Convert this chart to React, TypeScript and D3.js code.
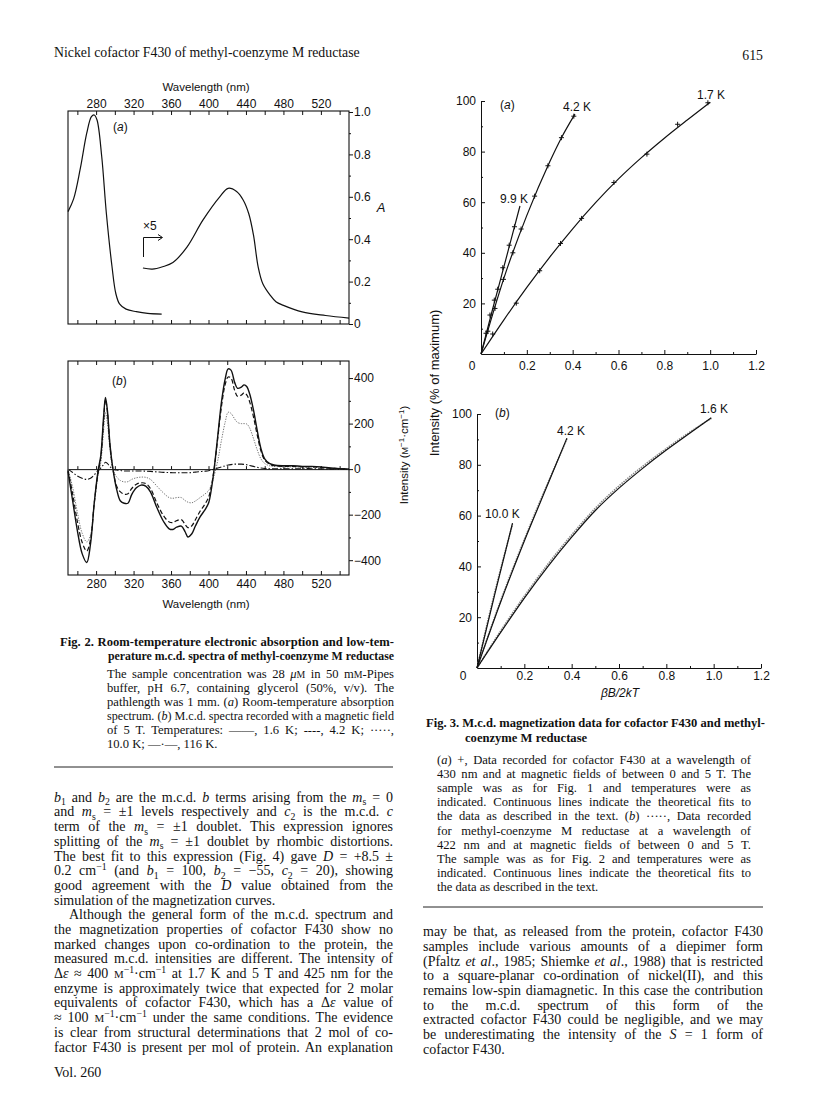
import React, { useEffect, useRef } from 'react';
import * as d3 from 'd3';

const SANS = '"Liberation Sans", Arial, Helvetica, sans-serif';
const SERIF = '"Liberation Serif", "Times New Roman", Times, serif';

// Fig. 2(a) room-temperature absorption
const absWl = [250, 256, 263, 270, 275, 278, 281, 286, 291, 297, 301, 305, 312, 323, 335, 350];
const absA = [0.53, 0.59, 0.73, 0.9, 0.978, 0.986, 0.962, 0.79, 0.52, 0.27, 0.145, 0.095, 0.07, 0.058, 0.05, 0.047];
// x5 expanded trace
const x5Wl = [330, 340, 351, 362, 377, 394, 412, 421, 430, 437, 443, 448, 453, 458, 466, 472, 480, 500, 525, 550];
const x5A = [0.264, 0.259, 0.27, 0.29, 0.363, 0.49, 0.6, 0.64, 0.625, 0.585, 0.52, 0.42, 0.27, 0.19, 0.135, 0.105, 0.088, 0.057, 0.04, 0.028];
const wlTicks = [260, 280, 300, 320, 340, 360, 380, 400, 420, 440, 460, 480, 500, 520, 540];
const wlLabels = [280, 320, 360, 400, 440, 480, 520];
const aTicks = [0, 0.2, 0.4, 0.6, 0.8, 1.0];
const aMinor = [0.1, 0.3, 0.5, 0.7, 0.9];

// Fig. 2(b) m.c.d. spectra
const mcdWl = [250, 255, 260, 265, 270, 274, 278, 282, 285, 288, 290, 292, 295, 298, 302, 306, 310, 314, 318, 323, 328, 333, 338, 345, 352, 358, 362, 366, 371, 375, 378, 382, 386, 391, 396, 400, 403, 406, 410, 414, 418, 421, 424, 428, 431, 435, 438, 441, 444, 448, 452, 456, 460, 465, 470, 480, 490, 500, 510, 520, 530, 540, 550];
const mcd16K = [-10, -140, -270, -370, -410, -330, -150, -10, 60, 230, 315, 260, 100, 0, -90, -140, -150, -150, -112, -82, -70, -75, -100, -170, -230, -262, -265, -255, -250, -275, -298, -285, -250, -210, -180, -150, -90, 0, 150, 300, 400, 440, 435, 380, 355, 360, 370, 362, 330, 260, 170, 90, 45, 25, 18, 15, 15, 12, 12, 10, 5, 2, 0];
const mcd42K = [-5, -110, -230, -320, -360, -310, -150, -20, 50, 210, 305, 255, 95, 0, -75, -100, -110, -108, -85, -66, -60, -63, -85, -150, -205, -232, -235, -226, -222, -243, -257, -250, -222, -185, -155, -125, -75, 0, 140, 280, 375, 405, 400, 345, 320, 325, 335, 325, 295, 230, 150, 80, 40, 22, 15, 12, 12, 10, 10, 8, 4, 2, 0];
const mcd10K = [0, -80, -190, -280, -320, -290, -150, -30, 30, 170, 250, 205, 80, 0, -35, -50, -56, -55, -45, -38, -35, -36, -45, -75, -105, -125, -128, -125, -125, -138, -145, -148, -140, -125, -110, -95, -70, -30, 40, 130, 210, 250, 245, 220, 205, 200, 200, 198, 180, 135, 85, 45, 25, 15, 12, 10, 10, 8, 8, 6, 3, 1, 0];
const mcd116K = [0, -15, -30, -40, -45, -40, -25, -5, 5, 20, 30, 25, 10, 0, -4, -6, -8, -8, -8, -8, -8, -9, -10, -12, -14, -15, -16, -16, -16, -16, -16, -15, -13, -11, -9, -7, -4, 0, 5, 10, 15, 18, 20, 22, 22, 22, 21, 19, 16, 12, 8, 5, 3, 2, 2, 2, 2, 2, 2, 1, 0, 0, 0];
const mcdTicks = [-400, -200, 0, 200, 400];
const mcdMinor = [-300, -100, 100, 300];

// Fig. 3(a) cofactor F430 magnetization (+ data, fitted lines)
const pts17x = [0.051, 0.154, 0.256, 0.347, 0.439, 0.58, 0.724, 0.858, 0.99];
const pts17y = [7.9, 20.1, 32.9, 43.7, 53.6, 67.8, 79, 90.8, 99.3];
const pts42x = [0.03, 0.061, 0.098, 0.139, 0.175, 0.234, 0.292, 0.351, 0.405];
const pts42y = [9, 18, 29.5, 40, 49.4, 62.4, 74.4, 85.5, 94];
const pts99x = [0.022, 0.039, 0.058, 0.073, 0.095, 0.123, 0.146];
const pts99y = [8.2, 15.4, 21.3, 25.6, 34.1, 43, 50.3];
const fit17x = [0, 0.1, 0.2, 0.3, 0.4, 0.5, 0.6, 0.7, 0.8, 0.9, 1.0];
const fit17y = [0, 13.5, 26.3, 38.3, 49.5, 59.8, 69.2, 77.6, 85.3, 92.5, 99.5];
const fit42x = [0, 0.1, 0.2, 0.3, 0.35, 0.41];
const fit42y = [0, 30, 54.8, 76, 85.3, 94.8];
const fit99x = [0, 0.05, 0.1, 0.17];
const fit99y = [0, 17.5, 34.5, 58.5];

// Fig. 3(b) methyl-coenzyme M reductase (dotted data, fitted lines)
const fitB16x = [0, 0.1, 0.2, 0.3, 0.4, 0.5, 0.6, 0.7, 0.8, 0.9, 0.99];
const fitB16y = [0, 14, 27.5, 40, 51.5, 62, 70.8, 78.6, 85.8, 92.5, 98.5];
const datB16y = [0, 14.6, 28.3, 40.9, 52.4, 62.9, 71.7, 79.4, 86.4, 92.9, 98.3];
const fitB42x = [0, 0.1, 0.2, 0.3, 0.38];
const fitB42y = [0, 26, 50, 72.5, 90.5];
const datB42y = [0, 26.5, 50.6, 73, 90.2];
const fitB10x = [0, 0.075, 0.15];
const fitB10y = [0, 29, 57];
const datB10y = [0, 29.8, 56.5];
const betaLabels = [0.2, 0.4, 0.6, 0.8, 1.0, 1.2];
const betaMinor = [0.1, 0.3, 0.5, 0.7, 0.9, 1.1];
const pctLabels = [20, 40, 60, 80, 100];
const pctMinor = [10, 30, 50, 70, 90];

// page text
const header = 'Nickel cofactor F430 of methyl-coenzyme M reductase';
const fig2Bold = [
  'Fig. 2. Room-temperature electronic absorption and low-tem-',
  'perature m.c.d. spectra of methyl-coenzyme M reductase',
];
const fig2Text = [
  'The sample concentration was 28 *μ*#M# in 50 m#M#-Pipes',
  'buffer, pH 6.7, containing glycerol (50%, v/v). The',
  'pathlength was 1 mm. (*a*) Room-temperature absorption',
  'spectrum. (*b*) M.c.d. spectra recorded with a magnetic field',
  'of 5 T. Temperatures: ——, 1.6 K; ----, 4.2 K; ·····,',
  '10.0 K; —·—, 116 K.',
];
const fig3Bold = [
  'Fig. 3. M.c.d. magnetization data for cofactor F430 and methyl-',
  'coenzyme M reductase',
];
const fig3Text = [
  '(*a*) +, Data recorded for cofactor F430 at a wavelength of',
  '430 nm and at magnetic fields of between 0 and 5 T. The',
  'sample was as for Fig. 1 and temperatures were as',
  'indicated. Continuous lines indicate the theoretical fits to',
  'the data as described in the text. (*b*) ·····, Data recorded',
  'for methyl-coenzyme M reductase at a wavelength of',
  '422 nm and at magnetic fields of between 0 and 5 T.',
  'The sample was as for Fig. 2 and temperatures were as',
  'indicated. Continuous lines indicate the theoretical fits to',
  'the data as described in the text.',
];
const leftBody = [
  '*b*_{1} and *b*_{2} are the m.c.d. *b* terms arising from the *m*_{s} = 0',
  'and *m*_{s} = ±1 levels respectively and *c*_{2} is the m.c.d. *c*',
  'term of the *m*_{s} = ±1 doublet. This expression ignores',
  'splitting of the *m*_{s} = ±1 doublet by rhombic distortions.',
  'The best fit to this expression (Fig. 4) gave *D* = +8.5 ±',
  '0.2 cm^{−1} (and *b*_{1} = 100, *b*_{2} = −55, *c*_{2} = 20), showing',
  'good agreement with the *D* value obtained from the',
  'simulation of the magnetization curves.',
  'Although the general form of the m.c.d. spectrum and',
  'the magnetization properties of cofactor F430 show no',
  'marked changes upon co-ordination to the protein, the',
  'measured m.c.d. intensities are different. The intensity of',
  'Δ*ε* ≈ 400 #M#^{−1}·cm^{−1} at 1.7 K and 5 T and 425 nm for the',
  'enzyme is approximately twice that expected for 2 molar',
  'equivalents of cofactor F430, which has a Δ*ε* value of',
  '≈ 100 #M#^{−1}·cm^{−1} under the same conditions. The evidence',
  'is clear from structural determinations that 2 mol of co-',
  'factor F430 is present per mol of protein. An explanation',
];
const rightBody = [
  'may be that, as released from the protein, cofactor F430',
  'samples include various amounts of a diepimer form',
  '(Pfaltz *et al*., 1985; Shiemke *et al*., 1988) that is restricted',
  'to a square-planar co-ordination of nickel(II), and this',
  'remains low-spin diamagnetic. In this case the contribution',
  'to the m.c.d. spectrum of this form of the',
  'extracted cofactor F430 could be negligible, and we may',
  'be underestimating the intensity of the *S* = 1 form of',
  'cofactor F430.',
];

// scales
const xW = d3.scaleLinear().domain([250, 550]).range([68, 349]);
const yA = d3.scaleLinear().domain([0, 1]).range([324, 112]);
const yM = d3.scaleLinear().domain([-465, 475]).range([575, 361]);
const x3a = d3.scaleLinear().domain([0, 1.2]).range([481, 756]);
const y3a = d3.scaleLinear().domain([0, 100]).range([354, 101]);
const x3b = d3.scaleLinear().domain([0, 1.2]).range([477, 761]);
const y3b = d3.scaleLinear().domain([0, 100]).range([668, 414]);

const path = (xs: number[], ys: number[], sx: any, sy: any, curve: any = d3.curveCatmullRom) =>
  d3.line<number>()
    .x((_, i) => sx(xs[i]))
    .y((_, i) => sy(ys[i]))
    .curve(curve)(xs.map((_, i) => i)) || '';

// tiny markup: *italic*, #smallcaps#, _{sub}, ^{sup}
const rich = (s: string, size: number) => {
  const parts = s.split(/(\*|#|_\{[^}]*\}|\^\{[^}]*\})/).filter(p => p !== '');
  let it = false, sm = false, back = 0;
  const out: any[] = [];
  parts.forEach((p, k) => {
    if (p === '*') { it = !it; return; }
    if (p === '#') { sm = !sm; return; }
    const st = it ? 'italic' : 'normal';
    if (p.startsWith('_{')) {
      out.push(<tspan key={k} dy={back + size * 0.25} fontSize={size * 0.7} fontStyle={st}>{p.slice(2, -1)}</tspan>);
      back = -size * 0.25;
      return;
    }
    if (p.startsWith('^{')) {
      out.push(<tspan key={k} dy={back - size * 0.35} fontSize={size * 0.7} fontStyle={st}>{p.slice(2, -1)}</tspan>);
      back = size * 0.35;
      return;
    }
    out.push(<tspan key={k} dy={back || undefined} fontSize={sm ? size * 0.78 : undefined} fontStyle={st}>{p}</tspan>);
    back = 0;
  });
  return out;
};

// justified lines: stretch word gaps to fill the column
function Lines({ lines, x, y0, dy, width, size, noJust = [], indent = {}, weight = 'normal' }: any) {
  const ref = useRef<SVGGElement>(null);
  useEffect(() => {
    ref.current!.querySelectorAll('text[data-w]').forEach((t: any) => {
      const w = +t.getAttribute('data-w');
      t.removeAttribute('word-spacing');
      t.removeAttribute('textLength');
      const nat = t.getComputedTextLength();
      const spaces = (t.textContent.match(/ /g) || []).length;
      if (nat < w && spaces) t.setAttribute('word-spacing', String((w - nat) / spaces));
      else if (nat > w) {
        t.setAttribute('textLength', String(w));
        t.setAttribute('lengthAdjust', 'spacingAndGlyphs');
      }
    });
  });
  return (
    <g ref={ref} fontFamily={SERIF} fontSize={size} fontWeight={weight} fill="#111">
      {lines.map((s: string, i: number) => {
        const ind = indent[i] || 0;
        const just = !noJust.includes(i);
        return (
          <text key={i} x={x + ind} y={y0 + i * dy} data-w={just ? width - ind : undefined}>
            {rich(s, size)}
          </text>
        );
      })}
    </g>
  );
}

function Axis({ axis, x = 0, y = 0, domain = true, size = 12 }: any) {
  const ref = useRef<SVGGElement>(null);
  useEffect(() => {
    const g = d3.select(ref.current!);
    g.selectAll('*').remove();
    g.call(axis);
    g.attr('font-family', SANS).attr('font-size', size);
    if (!domain) g.select('.domain').remove();
    g.selectAll('line, path').attr('stroke', '#111').attr('stroke-width', 1);
    g.selectAll('text').attr('fill', '#111');
  });
  return <g ref={ref} transform={`translate(${x},${y})`} />;
}

const plus = (px: number, py: number) => `M${px - 2.5},${py}H${px + 2.5}M${px},${py - 2.5}V${py + 2.5}`;

export default function App() {
  const fmtA = (d: any) => (d === 0 ? '0' : d3.format('.1f')(d));
  const none = () => '';
  return (
    <div style={{ position: 'absolute', left: 0, top: 0 }}>
      <svg width={816} height={1103} style={{ display: 'block', background: '#fff' }}>
        {/* page header */}
        <text x={54} y={57} fontFamily={SERIF} fontSize={13.8} fill="#111">{header}</text>
        <text x={763} y={60} fontFamily={SERIF} fontSize={13.8} textAnchor="end" fill="#111">615</text>

        {/* ---------- Fig. 2(a) ---------- */}
        <rect x={xW(250)} y={111} width={xW(550) - xW(250)} height={324 - 111} fill="none" stroke="#111" strokeWidth={1.1} />
        <Axis axis={d3.axisTop(xW).tickValues(wlTicks).tickSize(-4).tickSizeOuter(0).tickPadding(3)
          .tickFormat((d: any) => (wlLabels.includes(d) ? String(d) : ''))} y={111} domain={false} />
        <Axis axis={d3.axisBottom(xW).tickValues(wlTicks).tickSize(-4).tickSizeOuter(0).tickFormat(none)} y={324} domain={false} />
        <Axis axis={d3.axisRight(yA).tickValues(aTicks).tickSize(4).tickSizeOuter(0).tickPadding(1).tickFormat(fmtA)} x={349} domain={false} />
        <Axis axis={d3.axisRight(yA).tickValues(aMinor).tickSize(2).tickSizeOuter(0).tickFormat(none)} x={349} domain={false} />
        <text x={206} y={91} fontFamily={SANS} fontSize={11.5} textAnchor="middle" fill="#111">Wavelength (nm)</text>
        <text x={381} y={212} fontFamily={SANS} fontSize={13} fontStyle="italic" textAnchor="middle" fill="#111">A</text>
        <text x={113} y={131} fontFamily={SANS} fontSize={12} fill="#111">(<tspan fontStyle="italic">a</tspan>)</text>
        <path d={path(absWl, absA, xW, yA)} fill="none" stroke="#111" strokeWidth={1.2} />
        <path d={path(x5Wl, x5A, xW, yA)} fill="none" stroke="#111" strokeWidth={1.2} />
        <text x={143} y={230} fontFamily={SANS} fontSize={12} fill="#111">×5</text>
        <path d="M143.5,257V237.5H162M158,234.5L162.5,237.5L158,240.5" fill="none" stroke="#111" strokeWidth={1} />

        {/* ---------- Fig. 2(b) ---------- */}
        <rect x={xW(250)} y={361} width={xW(550) - xW(250)} height={575 - 361} fill="none" stroke="#111" strokeWidth={1.1} />
        <Axis axis={d3.axisTop(xW).tickValues(wlTicks).tickSize(-4).tickSizeOuter(0).tickFormat(none)} y={361} domain={false} />
        <Axis axis={d3.axisBottom(xW).tickValues(wlTicks).tickSize(-4).tickSizeOuter(0).tickPadding(4.5)
          .tickFormat((d: any) => (wlLabels.includes(d) ? String(d) : ''))} y={575} domain={false} />
        <Axis axis={d3.axisBottom(xW).tickValues(wlTicks).tickSize(-3).tickSizeOuter(0).tickFormat(none)} y={yM(0)} />
        <Axis axis={d3.axisRight(yM).tickValues(mcdTicks).tickSize(4).tickSizeOuter(0).tickPadding(1).tickFormat(d3.format('d') as any)} x={349} domain={false} />
        <Axis axis={d3.axisRight(yM).tickValues(mcdMinor).tickSize(2).tickSizeOuter(0).tickFormat(none)} x={349} domain={false} />
        <text x={206} y={608} fontFamily={SANS} fontSize={11.5} textAnchor="middle" fill="#111">Wavelength (nm)</text>
        <text transform="translate(408,455) rotate(-90)" fontFamily={SANS} fontSize={11.5} textAnchor="middle" fill="#111">
          Intensity (<tspan fontSize={9}>M</tspan><tspan dy={-4} fontSize={8}>−1</tspan><tspan dy={4}>·cm</tspan><tspan dy={-4} fontSize={8}>−1</tspan><tspan dy={4}>)</tspan>
        </text>
        <text x={112} y={385} fontFamily={SANS} fontSize={12} fill="#111">(<tspan fontStyle="italic">b</tspan>)</text>
        <path d={path(mcdWl, mcd116K, xW, yM)} fill="none" stroke="#111" strokeWidth={1.1} strokeDasharray="6,2,1.5,2" />
        <path d={path(mcdWl, mcd10K, xW, yM)} fill="none" stroke="#777" strokeWidth={1} strokeDasharray="1.3,1.3" />
        <path d={path(mcdWl, mcd42K, xW, yM)} fill="none" stroke="#111" strokeWidth={1.2} strokeDasharray="4.5,2.5" />
        <path d={path(mcdWl, mcd16K, xW, yM)} fill="none" stroke="#111" strokeWidth={1.4} />

        {/* Fig. 2 caption */}
        <Lines lines={fig2Bold} x={60} y0={646} dy={14} width={334} size={12.6} weight="bold" indent={{ 1: 48 }} />
        <Lines lines={fig2Text} x={107} y0={678} dy={13.9} width={287} size={12.6} noJust={[5]} />
        <line x1={54} x2={393} y1={767} y2={767} stroke="#222" strokeWidth={1} />

        {/* left column body */}
        <Lines lines={leftBody} x={54} y0={801.8} dy={14.69} width={339} size={14} noJust={[7]} indent={{ 8: 15 }} />
        <text x={54} y={1077} fontFamily={SERIF} fontSize={14} fill="#111">Vol. 260</text>

        {/* ---------- Fig. 3(a) ---------- */}
        <Axis axis={d3.axisBottom(x3a).tickValues(betaLabels).tickSize(-4).tickSizeOuter(0).tickPadding(7).tickFormat(d3.format('.1f') as any)} y={354} />
        <Axis axis={d3.axisBottom(x3a).tickValues(betaMinor).tickSize(-2).tickSizeOuter(0).tickFormat(none)} y={354} domain={false} />
        <Axis axis={d3.axisLeft(y3a).tickValues(pctLabels).tickSize(-4).tickSizeOuter(0).tickPadding(5).tickFormat(d3.format('d') as any)} x={481} />
        <Axis axis={d3.axisLeft(y3a).tickValues(pctMinor).tickSize(-2).tickSizeOuter(0).tickFormat(none)} x={481} domain={false} />
        <text x={x3a(0) - 9} y={370} fontFamily={SANS} fontSize={12} textAnchor="middle" fill="#111">0</text>
        <path d={path(fit17x, fit17y, x3a, y3a, d3.curveMonotoneX)} fill="none" stroke="#111" strokeWidth={1.2} />
        <path d={path(fit42x, fit42y, x3a, y3a, d3.curveMonotoneX)} fill="none" stroke="#111" strokeWidth={1.2} />
        <path d={path(fit99x, fit99y, x3a, y3a, d3.curveMonotoneX)} fill="none" stroke="#111" strokeWidth={1.2} />
        <path d={[
          ...pts17x.map((v, i) => plus(x3a(v), y3a(pts17y[i]))),
          ...pts42x.map((v, i) => plus(x3a(v), y3a(pts42y[i]))),
          ...pts99x.map((v, i) => plus(x3a(v), y3a(pts99y[i]))),
        ].join('')} fill="none" stroke="#111" strokeWidth={1} />
        <text x={500} y={109} fontFamily={SANS} fontSize={12} fill="#111">(<tspan fontStyle="italic">a</tspan>)</text>
        <text x={563} y={111} fontFamily={SANS} fontSize={12} fill="#111">4.2 K</text>
        <text x={697} y={99} fontFamily={SANS} fontSize={12} fill="#111">1.7 K</text>
        <text x={500} y={203} fontFamily={SANS} fontSize={12} fill="#111">9.9 K</text>
        <text transform="translate(439,383) rotate(-90)" fontFamily={SANS} fontSize={13} textAnchor="middle" fill="#111">Intensity (% of maximum)</text>

        {/* ---------- Fig. 3(b) ---------- */}
        <Axis axis={d3.axisBottom(x3b).tickValues(betaLabels).tickSize(-4).tickSizeOuter(0).tickPadding(3.5).tickFormat(d3.format('.1f') as any)} y={668} />
        <Axis axis={d3.axisBottom(x3b).tickValues(betaMinor).tickSize(-2).tickSizeOuter(0).tickFormat(none)} y={668} domain={false} />
        <Axis axis={d3.axisLeft(y3b).tickValues(pctLabels).tickSize(-4).tickSizeOuter(0).tickPadding(5).tickFormat(d3.format('d') as any)} x={477} />
        <Axis axis={d3.axisLeft(y3b).tickValues(pctMinor).tickSize(-2).tickSizeOuter(0).tickFormat(none)} x={477} domain={false} />
        <text x={x3b(0) - 14} y={680} fontFamily={SANS} fontSize={12} textAnchor="middle" fill="#111">0</text>
        <path d={path(fitB16x, datB16y, x3b, y3b, d3.curveMonotoneX)} fill="none" stroke="#888" strokeWidth={1.6} strokeDasharray="1.5,1" />
        <path d={path(fitB42x, datB42y, x3b, y3b, d3.curveMonotoneX)} fill="none" stroke="#888" strokeWidth={1.6} strokeDasharray="1.5,1" />
        <path d={path(fitB10x, datB10y, x3b, y3b, d3.curveMonotoneX)} fill="none" stroke="#888" strokeWidth={1.6} strokeDasharray="1.5,1" />
        <path d={path(fitB16x, fitB16y, x3b, y3b, d3.curveMonotoneX)} fill="none" stroke="#111" strokeWidth={1.2} />
        <path d={path(fitB42x, fitB42y, x3b, y3b, d3.curveMonotoneX)} fill="none" stroke="#111" strokeWidth={1.2} />
        <path d={path(fitB10x, fitB10y, x3b, y3b, d3.curveMonotoneX)} fill="none" stroke="#111" strokeWidth={1.2} />
        <text x={495} y={417} fontFamily={SANS} fontSize={12} fill="#111">(<tspan fontStyle="italic">b</tspan>)</text>
        <text x={557} y={435} fontFamily={SANS} fontSize={12} fill="#111">4.2 K</text>
        <text x={700} y={413} fontFamily={SANS} fontSize={12} fill="#111">1.6 K</text>
        <text x={485} y={518} fontFamily={SANS} fontSize={12} fill="#111">10.0 K</text>
        <text x={620} y={697} fontFamily={SANS} fontSize={12} fontStyle="italic" textAnchor="middle" fill="#111">βB/2kT</text>

        {/* Fig. 3 caption */}
        <Lines lines={fig3Bold} x={426} y0={727} dy={15} width={339} size={12.6} weight="bold" noJust={[1]} indent={{ 1: 39 }} />
        <Lines lines={fig3Text} x={437} y0={764} dy={14.1} width={314} size={12.6} noJust={[9]} />
        <line x1={423} x2={763} y1={907} y2={907} stroke="#222" strokeWidth={1} />

        {/* right column body */}
        <Lines lines={rightBody} x={423} y0={936.2} dy={14.69} width={340} size={14} noJust={[8]} />
      </svg>
    </div>
  );
}
